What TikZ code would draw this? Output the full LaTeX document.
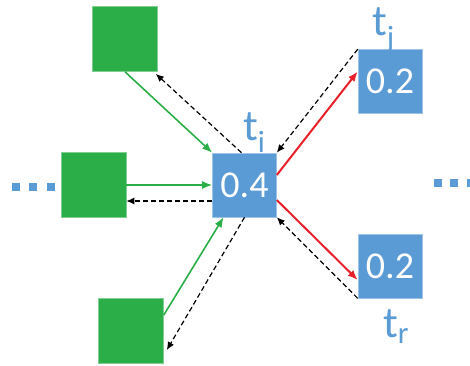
\documentclass[tikz,border=0pt]{standalone}
\usepackage{fontspec}
\setmainfont{Carlito}
\usetikzlibrary{arrows.meta}

\definecolor{boxgreen}{RGB}{43,174,71}
\definecolor{boxblue}{RGB}{91,155,213}
\definecolor{arrred}{RGB}{232,32,42}

\begin{document}
\begin{tikzpicture}[x=1pt,y=-1pt,
    greenbox/.style={fill=boxgreen,draw=boxgreen!60,line width=0.6pt,minimum size=65pt,inner sep=0pt},
    bluebox/.style={fill=boxblue,draw=boxblue!60,line width=0.6pt,minimum size=64pt,inner sep=0pt,
      text=white,font=\fontsize{38}{38}\selectfont},
    tlabel/.style={text=boxblue,anchor=base west,inner sep=0pt,font=\fontsize{44}{44}\selectfont},
    dot/.style={fill=boxblue,minimum size=8pt,inner sep=0pt},
    push/.style={-{Latex[length=10pt,width=8pt]},boxgreen,line width=1.6pt},
    back/.style={-{Latex[length=8pt,width=7pt]},line width=1.2pt,dash pattern=on 5pt off 3pt},
    share/.style={-{Latex[length=10pt,width=8pt]},arrred,line width=2pt}]
  \useasboundingbox (0,0) rectangle (470,365);

  \node[greenbox] (G1) at (125,39) {};
  \node[greenbox] (G2) at (93.5,185) {};
  \node[greenbox] (G3) at (131,331) {};

  \node[bluebox] (C) at (244.5,185) {0.4};
  \node[bluebox] (J) at (390,81.5) {0.2};
  \node[bluebox] (R) at (390,266) {0.2};

  \node[tlabel] (Ti) at (243,140) {t\textsubscript{i}};
  \node[tlabel] (Tj) at (372,35) {t\textsubscript{j}};
  \node[tlabel] (Tr) at (383,337) {t\textsubscript{r}};

  \foreach \x [count=\k] in {16,32.5,51} \node[dot] (dl\k) at (\x,187) {};
  \foreach \x [count=\k] in {437.5,454,470.5} \node[dot] (dr\k) at (\x,183) {};

  \draw[push] (G1.south) -- (C.north west);
  \draw[push] (G2.east) -- (C.west);
  \draw[push] ([yshift=16pt]G3.east) -- ([xshift=-21pt]C.south);

  \draw[back] ([xshift=-3pt]C.north) -- ([xshift=-2pt,yshift=-2pt]G1.south east);
  \draw[back] ([yshift=-16pt]C.west) -- ([yshift=-16pt]G2.east);
  \draw[back] (C.south) -- ([xshift=3pt,yshift=-19pt]G3.east);

  \draw[share] ([yshift=10pt]C.east) -- ([yshift=10pt]J.west);
  \draw[share] ([yshift=-15pt]C.east) -- ([yshift=-14pt]R.west);

  \draw[back] (J.north west) -- (C.north east);
  \draw[back] (R.south west) -- (C.south east);

\end{tikzpicture}
\end{document}
